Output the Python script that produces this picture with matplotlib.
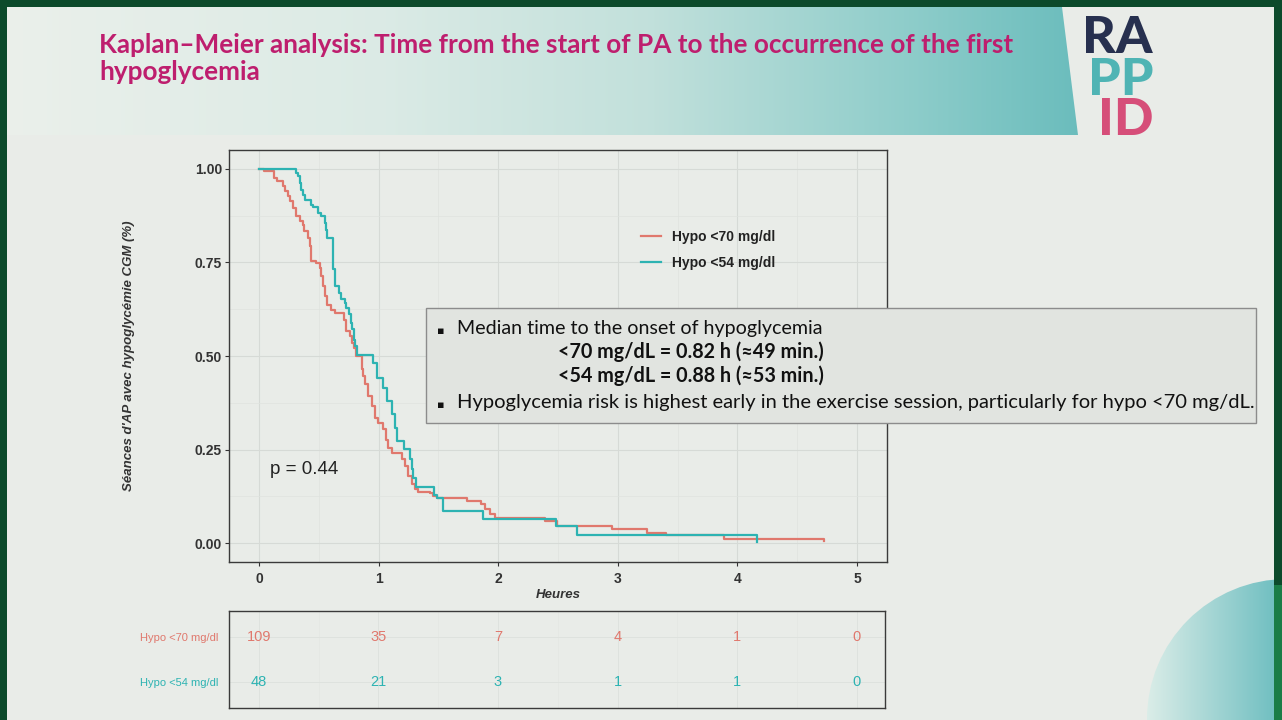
import numpy as np
import matplotlib
matplotlib.use('Agg')
import matplotlib.pyplot as plt
from matplotlib.patches import Rectangle, Polygon, Circle
from matplotlib.lines import Line2D

W, H = 1282, 720

# ---------------- data ----------------
times_70 = [0.00, 0.04, 0.13, 0.15, 0.20, 0.215, 0.24, 0.26, 0.285, 0.31, 0.34, 0.37, 0.38,
            0.41, 0.424, 0.432, 0.438, 0.48, 0.508, 0.522, 0.536, 0.549, 0.572, 0.605, 0.633,
            0.711, 0.731, 0.759, 0.778, 0.795, 0.815, 0.862, 0.873, 0.887, 0.915, 0.943, 0.971,
            0.999, 1.04, 1.063, 1.082, 1.11, 1.194, 1.222, 1.25, 1.278, 1.305, 1.333, 1.431,
            1.459, 1.487, 1.738, 1.86, 1.89, 1.93, 1.975, 2.39, 2.49, 2.95, 3.24, 3.40, 3.89, 4.72]
surv_70 = [1.000, 0.995, 0.975, 0.966, 0.953, 0.940, 0.926, 0.913, 0.895, 0.873, 0.860, 0.851, 0.833,
           0.815, 0.793, 0.771, 0.753, 0.748, 0.735, 0.713, 0.686, 0.659, 0.637, 0.624, 0.615,
           0.597, 0.566, 0.553, 0.535, 0.522, 0.500, 0.464, 0.446, 0.424, 0.393, 0.366, 0.335,
           0.322, 0.304, 0.277, 0.255, 0.242, 0.224, 0.206, 0.180, 0.157, 0.144, 0.138, 0.135,
           0.126, 0.120, 0.113, 0.104, 0.091, 0.077, 0.067, 0.060, 0.046, 0.039, 0.028, 0.021, 0.0125, 0.005]

times_54 = [0.00, 0.312, 0.326, 0.34, 0.354, 0.368, 0.382, 0.438, 0.452, 0.494, 0.522, 0.549, 0.564,
            0.569, 0.619, 0.633, 0.669, 0.689, 0.717, 0.731, 0.75, 0.767, 0.781, 0.795, 0.806, 0.817,
            0.951, 0.985, 1.04, 1.068, 1.11, 1.138, 1.152, 1.213, 1.264, 1.278, 1.291, 1.314, 1.464,
            1.487, 1.537, 1.877, 2.485, 2.66, 4.165]
surv_54 = [1.000, 0.988, 0.980, 0.962, 0.944, 0.931, 0.917, 0.904, 0.898, 0.882, 0.873, 0.855, 0.837,
           0.815, 0.731, 0.686, 0.669, 0.651, 0.642, 0.628, 0.611, 0.589, 0.571, 0.544, 0.526, 0.504,
           0.482, 0.442, 0.415, 0.379, 0.344, 0.308, 0.273, 0.252, 0.224, 0.197, 0.175, 0.149, 0.129,
           0.122, 0.086, 0.064, 0.046, 0.022, 0.004]

series_labels = ['Hypo <70 mg/dl', 'Hypo <54 mg/dl']
risk_times = [0, 1, 2, 3, 4, 5]
risk_70 = [109, 35, 7, 4, 1, 0]
risk_54 = [48, 21, 3, 1, 1, 0]
x_ticks = [0, 1, 2, 3, 4, 5]
y_ticks = [0.0, 0.25, 0.50, 0.75, 1.00]
y_tick_labels = ['0.00', '0.25', '0.50', '0.75', '1.00']
x_label = 'Heures'
y_label = "Séances d'AP avec hypoglycémie CGM (%)"
p_text = 'p = 0.44'
title_lines = ['Kaplan\u2013Meier analysis: Time from the start of PA to the occurrence of the first',
               'hypoglycemia']
note_lines = ['Median time to the onset of hypoglycemia',
              '<70 mg/dL = 0.82 h (\u224849 min.)',
              '<54 mg/dL = 0.88 h (\u224853 min.)',
              'Hypoglycemia risk is highest early in the exercise session, particularly for hypo <70 mg/dL.']
logo_parts = ['RA', 'PP', 'ID']

# ---------------- style ----------------
C70 = '#E0786D'
C54 = '#2DB3B2'
BG = '#E9ECE8'
DARK = '#333333'
CHART_FONT = 'Liberation Sans'
SLIDE_FONT = ['Lato', 'DejaVu Sans']

fig = plt.figure(figsize=(W / 100, H / 100), dpi=100)
fig.patch.set_facecolor(BG)


def px_axes(x0, y0, x1, y1, **kw):
    return fig.add_axes([x0 / W, 1 - y1 / H, (x1 - x0) / W, (y1 - y0) / H], **kw)


# ---------------- background layer ----------------
bg = px_axes(0, 0, W, H)
bg.set_xlim(0, W)
bg.set_ylim(H, 0)
bg.axis('off')
bg.set_zorder(0)

# header gradient band
xs = np.linspace(0, 1, 600)
anchors = [0.0, 0.35, 0.6, 0.85, 1.0]
cols = np.array([[0.92, 0.94, 0.92], [0.86, 0.92, 0.90], [0.76, 0.88, 0.86],
                 [0.55, 0.80, 0.79], [0.42, 0.74, 0.74]])
grad = np.stack([np.interp(xs, anchors, cols[:, k]) for k in range(3)], axis=-1)[None, :, :]
im = bg.imshow(grad, extent=(7, 1079, 135, 7), aspect='auto', zorder=1)
band = Polygon([(7, 7), (1062, 7), (1078, 135), (7, 135)], closed=True, transform=bg.transData,
               facecolor='none', edgecolor='none')
bg.add_patch(band)
im.set_clip_path(band)

# bottom-right quarter circle
xs2 = np.linspace(0, 1, 300)
cols2 = np.array([[0.86, 0.93, 0.91], [0.42, 0.74, 0.75]])
grad2 = np.stack([np.interp(xs2, [0, 1], cols2[:, k]) for k in range(3)], axis=-1)[None, :, :]
im2 = bg.imshow(grad2, extent=(1146, 1282, 720, 576), aspect='auto', zorder=1)
circ = Circle((1287, 719), 140, transform=bg.transData, facecolor='none', edgecolor='none')
bg.add_patch(circ)
im2.set_clip_path(circ)

# slide borders
bg.add_patch(Rectangle((0, 0), W, 7, facecolor='#0C4A2B', edgecolor='none', zorder=3))
bg.add_patch(Rectangle((0, 0), 7, H, facecolor='#0C4A2B', edgecolor='none', zorder=3))
bg.add_patch(Rectangle((1274, 0), 8, 585, facecolor='#0C4A2B', edgecolor='none', zorder=3))
bg.add_patch(Rectangle((1274, 585), 8, H - 585, facecolor='#1A7D47', edgecolor='none', zorder=3))

fig.canvas.draw()
renderer = fig.canvas.get_renderer()


def fit_width(t, width):
    bb = t.get_window_extent(renderer=renderer)
    t.set_fontsize(t.get_fontsize() * width / bb.width)
    return t.get_fontsize()


# title
t1 = bg.text(99, 53, title_lines[0], color='#BE1E6E', fontweight='bold', family=SLIDE_FONT,
             fontsize=18, va='baseline', ha='left', zorder=4)
fs_title = fit_width(t1, 914)
bg.text(99, 80, title_lines[1], color='#BE1E6E', fontweight='bold', family=SLIDE_FONT,
        fontsize=fs_title, va='baseline', ha='left', zorder=4)

# logo (cap height ~38 px)
logo_cols = ['#27304F', '#4FB4B4', '#D64E79']
logo_base = [53, 95, 135]
for s, c, yb in zip(logo_parts, logo_cols, logo_base):
    bg.text(1153, yb, s, color=c, fontweight='black', family=SLIDE_FONT, fontsize=37.5,
            va='baseline', ha='right', zorder=4)

# ---------------- main KM axes ----------------
ax = px_axes(229, 150, 887, 562)
ax.set_zorder(2)
ax.set_facecolor(BG)
ax.set_xlim(-0.25, 5.25)
ax.set_ylim(-0.05, 1.05)
ax.set_xticks(x_ticks)
ax.set_xticks([0.5, 1.5, 2.5, 3.5, 4.5], minor=True)
ax.set_yticks(y_ticks)
ax.set_yticklabels(y_tick_labels)
ax.set_yticks([0.125, 0.375, 0.625, 0.875], minor=True)
ax.grid(True, which='major', color='#D6DAD6', lw=0.8)
ax.grid(True, which='minor', color='#DFE3DF', lw=0.5)
ax.set_axisbelow(True)
for sp in ax.spines.values():
    sp.set_color('#3A3A3A')
    sp.set_linewidth(1.0)
ax.tick_params(which='major', length=3, width=0.8, color=DARK, labelcolor=DARK, pad=2,
               labelsize=10)
ax.tick_params(axis='x', which='major', pad=4.5)
ax.tick_params(which='minor', length=0)
for lab in ax.get_xticklabels() + ax.get_yticklabels():
    lab.set_fontweight('bold')
    lab.set_family(CHART_FONT)

l70, = ax.step(times_70, surv_70, where='post', color=C70, lw=1.6, zorder=3)
l54, = ax.step(times_54, surv_54, where='post', color=C54, lw=1.6, zorder=3)

ax.set_xlabel(x_label, fontstyle='italic', fontweight='bold', family=CHART_FONT, fontsize=9.5,
              color=DARK)
ax.xaxis.set_label_coords(0.5, -0.065)
ax.set_ylabel(y_label, fontstyle='italic', fontweight='bold', family=CHART_FONT, fontsize=9.5,
              color=DARK)
ax.yaxis.set_label_coords(-0.143, 0.5)

ax.text(0.09, 0.197, p_text, family=CHART_FONT, fontsize=13.5, color='#222222', va='center',
        ha='left')

leg = ax.legend([Line2D([], [], color=C70, lw=1.6), Line2D([], [], color=C54, lw=1.6)],
                series_labels, loc='upper left', bbox_to_anchor=((641 - 229) / 658, (562 - 230) / 412),
                frameon=False, borderpad=0, borderaxespad=0, handlelength=1.45, handletextpad=0.75,
                labelspacing=0.85, prop={'family': CHART_FONT, 'weight': 'bold', 'size': 10})
for txt in leg.get_texts():
    txt.set_color('#222222')

# ---------------- risk table ----------------
axt = px_axes(229, 611, 885, 708)
axt.set_zorder(2)
axt.set_facecolor(BG)
axt.set_xlim(-0.25, 5.237)
axt.set_ylim(-0.578, 1.578)
axt.set_xticks(x_ticks)
axt.set_xticks([0.5, 1.5, 2.5, 3.5, 4.5], minor=True)
axt.set_yticks([1, 0])
axt.set_yticklabels(series_labels)
axt.grid(True, which='major', color='#DDE1DD', lw=0.6)
axt.grid(True, which='minor', axis='x', color='#E2E6E2', lw=0.4)
axt.set_axisbelow(True)
axt.tick_params(axis='x', length=0, labelbottom=False)
axt.tick_params(axis='x', which='minor', length=0)
axt.tick_params(axis='y', length=0, pad=8, labelsize=8)
for sp in axt.spines.values():
    sp.set_color('#3A3A3A')
    sp.set_linewidth(1.0)
for lab, c in zip(axt.get_yticklabels(), [C70, C54]):
    lab.set_color(c)
    lab.set_family(CHART_FONT)
for t, n in zip(risk_times, risk_70):
    axt.text(t, 1, str(n), ha='center', va='center', color=C70, fontsize=10.5, family=CHART_FONT)
for t, n in zip(risk_times, risk_54):
    axt.text(t, 0, str(n), ha='center', va='center', color=C54, fontsize=10.5, family=CHART_FONT)

# ---------------- annotation box overlay ----------------
ov = px_axes(0, 0, W, H)
ov.set_xlim(0, W)
ov.set_ylim(H, 0)
ov.axis('off')
ov.patch.set_alpha(0)
ov.set_zorder(5)
ov.add_patch(Rectangle((426, 308), 830, 115, facecolor='#E1E4E0', edgecolor='#8C8C8C', lw=1.0))
for yb in [334, 408]:
    ov.text(437, yb, '\u25aa', family='DejaVu Sans', fontsize=8, color='#111111', va='baseline',
            ha='left')
n1 = ov.text(457, 334, note_lines[0], family=SLIDE_FONT, fontsize=13, color='#111111',
             va='baseline', ha='left')
fit_width(n1, 364)
n2 = ov.text(558, 358, note_lines[1], family=SLIDE_FONT, fontweight='bold', fontsize=13,
             color='#111111', va='baseline', ha='left')
fs_b = fit_width(n2, 264)
ov.text(558, 382, note_lines[2], family=SLIDE_FONT, fontweight='bold', fontsize=fs_b,
        color='#111111', va='baseline', ha='left')
n4 = ov.text(457, 408, note_lines[3], family=SLIDE_FONT, fontsize=13, color='#111111',
             va='baseline', ha='left')
fit_width(n4, 797)

fig.savefig('out.png', dpi=100, facecolor=fig.get_facecolor())
